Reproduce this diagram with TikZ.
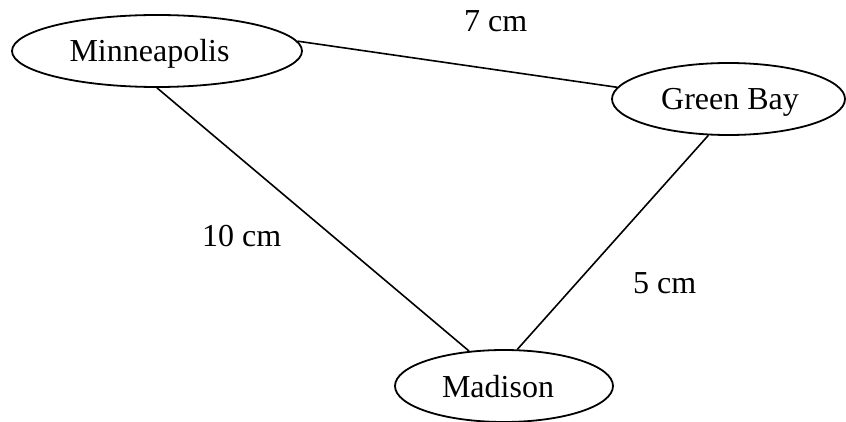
\documentclass[tikz,border=0pt]{standalone}
\usepackage{fontspec}
\setmainfont{Liberation Serif}
\usetikzlibrary{shapes.geometric}

\tikzset{
  city/.style={draw, ellipse, line width=1.8pt, inner sep=0pt,
               text height=22pt, text depth=0pt},
  road/.style={line width=1.6pt},
  dist/.style={anchor=base west, inner sep=0pt},
}

\begin{document}
\begin{tikzpicture}[x=1pt, y=-1pt, font=\fontsize{32}{38}\selectfont]
  \useasboundingbox (0,0) rectangle (846,422);

  % cities (the padding nudges each name slightly off centre)
  \node[city, minimum width=290pt, minimum height=72pt] (mpls) at (157,51) {Minneapolis\hspace*{15pt}};
  \node[city, minimum width=233pt, minimum height=72pt] (gb)   at (728.5,99) {\hspace*{3pt}Green Bay};
  \node[city, minimum width=218pt, minimum height=72pt] (mad)  at (504,386) {Madison\hspace*{12pt}};

  % roads between them
  \draw[road] (mpls.4)   -- (gb.174);
  \draw[road] (mpls.-90) -- (mad.135);
  \draw[road] (gb.241)   -- (mad.70);

  % distances
  \node[dist] (d1) at (464,31.7) {7 cm};
  \node[dist] (d2) at (202,247)  {10 cm};
  \node[dist] (d3) at (633,293)  {5 cm};
\end{tikzpicture}
\end{document}
